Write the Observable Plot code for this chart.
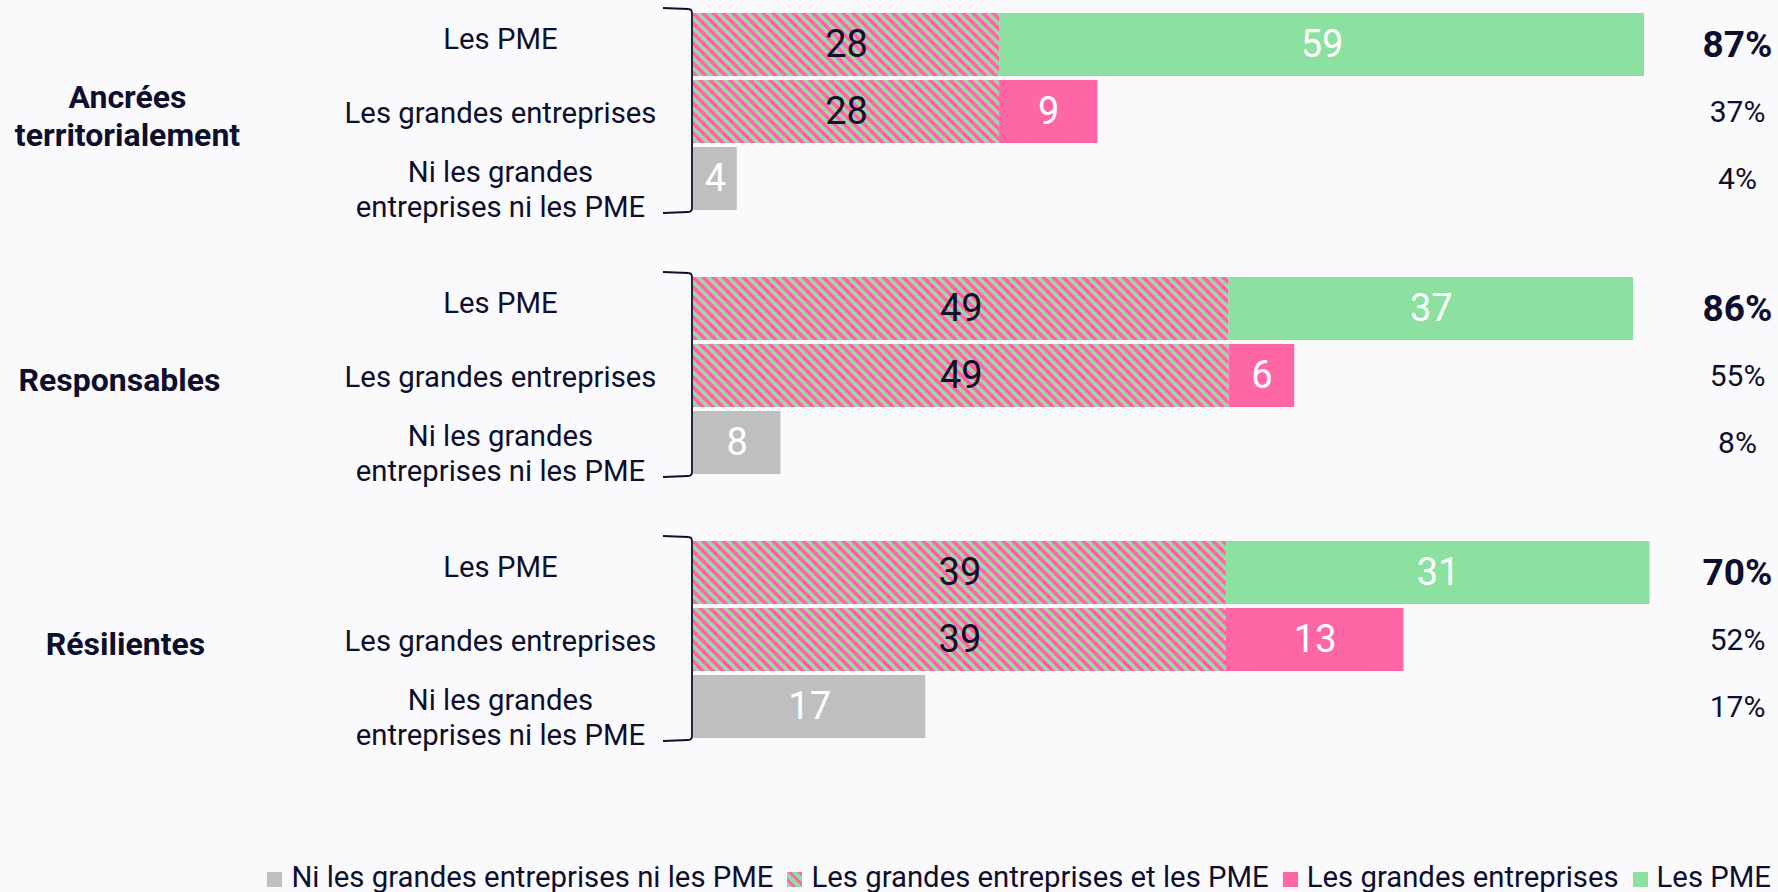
<!DOCTYPE html>
<html>
<head>
<meta charset="utf-8">
<script src="https://cdn.jsdelivr.net/npm/d3@7"></script>
<script src="https://cdn.jsdelivr.net/npm/@observablehq/plot@0.6"></script>
<style>
  html, body { margin: 0; padding: 0; background: #fafafd; }
  body { width: 1778px; height: 892px; overflow: hidden; font-family: Roboto, sans-serif; color: #0d0f2c; }
  #chart svg { display: block; overflow: visible; }
  #legend { display: flex; justify-content: flex-end; align-items: baseline; padding-top: 67px; padding-right: 7px;
            font-size: 29.3px; line-height: 36px; white-space: nowrap; }
  #legend .item { margin-left: 14px; }
  #legend .sw { display: inline-block; width: 15px; height: 15px; margin-right: 9px; vertical-align: baseline; }
</style>
</head>
<body>
<svg width="0" height="0" style="position:absolute">
  <defs>
    <pattern id="hatch" patternUnits="userSpaceOnUse" width="10" height="10">
      <rect width="10" height="10" fill="#8de1a0"></rect>
      <path d="M-2,8L2,12M0,0L10,10M8,-2L12,2" stroke="#ff66a5" stroke-width="3.4" shape-rendering="crispEdges"></path>
    </pattern>
  </defs>
</svg>
<div id="chart"></div>
<div id="legend"></div>
<script>
// ---- Data ----
const groups = ["Ancrées\nterritorialement", "Responsables", "Résilientes"];
const rows = ["Les PME", "Les grandes entreprises", "Ni les grandes\nentreprises ni les PME"];
const series = ["Ni les grandes entreprises ni les PME", "Les grandes entreprises et les PME", "Les grandes entreprises", "Les PME"];
const seriesColors = ["#bfbfbf", "url(#hatch)", "#ff66a5", "#8de1a0"];
const both = [28, 49, 39];      // Les grandes entreprises et les PME
const pmeOnly = [59, 37, 31];   // Les PME
const geOnly = [9, 6, 13];      // Les grandes entreprises
const neither = [4, 8, 17];     // Ni les grandes entreprises ni les PME
const panelMax = [87, 87, 69.6];  // x-axis maximum of each panel (as in the original)

const ink = "#0d0f2c";
const W = 1778, PH = 264;
const rowDy = [-7, 0, 9];
const groupDx = [-566, -574, -568];

function panel(i) {
  const segments = [];
  const addRow = (row, parts) => {
    let acc = 0;
    for (const [s, v] of parts) { segments.push({row, series: s, value: v, x1: acc, x2: acc + v}); acc += v; }
    return acc;
  };
  const totals = [
    addRow(rows[0], [[series[1], both[i]], [series[3], pmeOnly[i]]]),
    addRow(rows[1], [[series[1], both[i]], [series[2], geOnly[i]]]),
    addRow(rows[2], [[series[0], neither[i]]])
  ];
  const rowTable = rows.map((r, j) => ({row: r, rowIndex: j, group: groups[i], total: totals[j]}));

  function bracket(index, scales) {
    const y = scales.y, x = scales.x;
    const bw = typeof y.bandwidth === "function" ? y.bandwidth() : y.bandwidth;
    const top = y(rows[0]) - 4, bottom = y(rows[2]) + bw + 2;
    const x0 = x(0) - 1, xl = x0 - 29;
    const g = d3.create("svg:g").attr("fill", "none").attr("stroke", ink).attr("stroke-width", 1.8);
    g.append("path").attr("d",
      `M${xl},${top - 1}L${x0 - 4},${top}Q${x0},${top} ${x0},${top + 4}L${x0},${bottom - 4}Q${x0},${bottom} ${x0 - 4},${bottom}L${xl},${bottom + 1}`);
    return g.node();
  }

  return Plot.plot({
    width: W, height: PH,
    marginLeft: 693, marginRight: 134, marginTop: 11, marginBottom: PH - 11 - 201,
    x: {domain: [0, panelMax[i]], axis: null},
    y: {domain: rows, axis: null, paddingInner: 0.06, paddingOuter: 0.03},
    color: {domain: series, range: seriesColors},
    style: {background: "transparent", fontFamily: "Roboto, sans-serif", color: ink, overflow: "visible"},
    marks: [
      Plot.barX(segments, {x1: "x1", x2: "x2", y: "row", fill: "series"}),
      Plot.text(segments, {filter: d => d.series === series[1], x: d => (d.x1 + d.x2) / 2, y: "row", text: d => String(d.value), fill: ink, fontSize: 38}),
      Plot.text(segments, {filter: d => d.series !== series[1], x: d => (d.x1 + d.x2) / 2, y: "row", text: d => String(d.value), fill: "white", fontSize: 38}),
      Plot.text(rowTable, {filter: d => d.rowIndex === 0, y: "row", frameAnchor: "right", dx: 93, textAnchor: "middle", text: d => d.total + "%", fontSize: 37, fontWeight: "bold", fill: ink}),
      Plot.text(rowTable, {filter: d => d.rowIndex !== 0, y: "row", frameAnchor: "right", dx: 93, textAnchor: "middle", text: d => d.total + "%", fontSize: 30, fill: ink}),
      ...rows.map((r, j) => Plot.text(rowTable, {filter: d => d.rowIndex === j, y: "row", frameAnchor: "left", dx: -193, dy: rowDy[j], textAnchor: "middle", text: "row", fontSize: 29.3, lineHeight: 1.22, fill: ink})),
      Plot.text(rowTable, {filter: d => d.rowIndex === 1, y: "row", frameAnchor: "left", dx: groupDx[i], dy: 3, textAnchor: "middle", text: "group", fontSize: 32, fontWeight: "bold", lineHeight: 1.2, fill: ink}),
      bracket
    ]
  });
}

const chart = document.getElementById("chart");
groups.forEach((g, i) => chart.appendChild(panel(i)));

// ---- Legend ----
const legend = d3.select("#legend");
series.forEach((s, i) => {
  const item = legend.append("span").attr("class", "item");
  item.append("span").attr("class", "sw")
    .style("background", i === 1 ? "repeating-linear-gradient(45deg, #8de1a0 0 4px, #ff66a5 4px 7px)" : seriesColors[i]);
  item.append("span").text(s);
});
</script>
</body>
</html>
